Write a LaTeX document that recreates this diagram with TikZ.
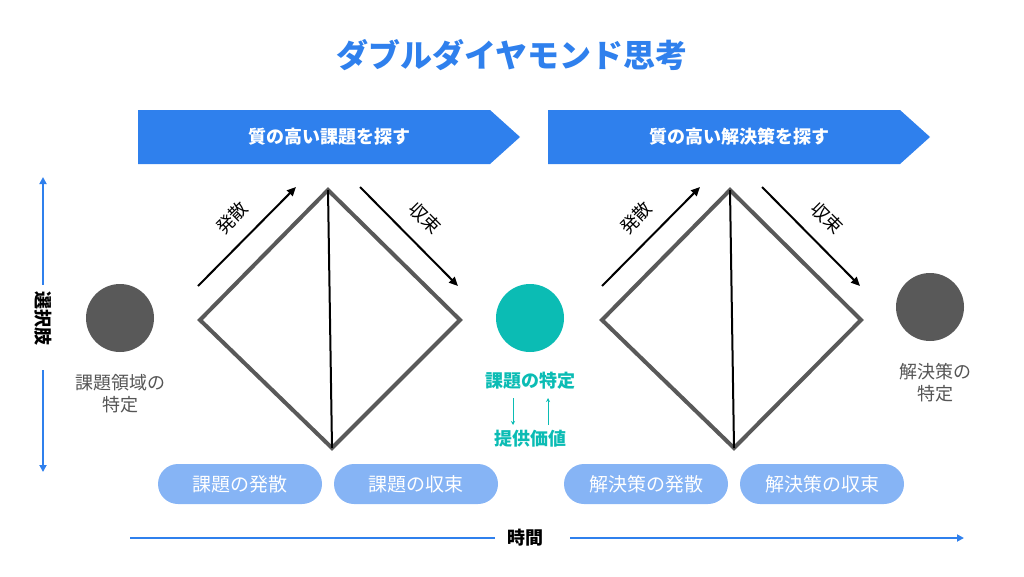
\documentclass[tikz,border=0pt]{standalone}
\usepackage{fontspec}
\setmainfont{Noto Sans CJK JP}
\usetikzlibrary{arrows.meta}
\definecolor{cblue}{HTML}{2F80ED}
\definecolor{cpill}{HTML}{86B4F5}
\definecolor{cteal}{HTML}{0BBCB4}
\definecolor{cdark}{HTML}{595959}
\definecolor{ctext}{HTML}{555555}
\begin{document}
\begin{tikzpicture}[x=1pt,y=-1pt,
  banner/.style={fill=cblue},
  btext/.style={text=white,font=\fontsize{18}{20}\selectfont\bfseries},
  pill/.style={fill=cpill,rounded corners=20pt,minimum width=164pt,minimum height=40pt,text=white,font=\fontsize{19}{21}\selectfont},
  dia/.style={draw=cdark,line width=4pt,line join=miter},
  arr/.style={-{Triangle[length=9pt,width=8pt]},line width=2pt},
  lab/.style={font=\fontsize{18}{20}\selectfont\bfseries,text=black,inner sep=1pt},
  rlab/.style={font=\fontsize{18}{20}\selectfont,text=black,inner sep=0pt},
  dot/.style={circle,minimum size=68pt,inner sep=0pt},
  glab/.style={text=ctext,font=\fontsize{18}{22}\selectfont,align=center}]
\useasboundingbox (0,0) rectangle (1024,576);
\node[text=cblue,font=\fontsize{32}{34}\selectfont\bfseries] (title) at (512,55) {ダブルダイヤモンド思考};
\fill[banner] (138,110) -- (490,110) -- (520,137) -- (490,164) -- (138,164) -- cycle;
\fill[banner] (548,110) -- (900,110) -- (930,137) -- (900,164) -- (548,164) -- cycle;
\node[btext] (b1) at (329,137) {質の高い課題を探す};
\node[btext] (b2) at (739,137) {質の高い解決策を探す};
% diamonds
\draw[dia] (200,320) -- (328,190) -- (460,320) -- (332,448) -- cycle;
\draw[black,line width=2pt] (328,190) -- (332,448);
\draw[dia] (602,320) -- (730,190) -- (861,320) -- (734,448) -- cycle;
\draw[black,line width=2pt] (730,190) -- (734,448);
% arrows
\coordinate (a1s) at (198,286); \coordinate (a1e) at (296,187);
\coordinate (a2s) at (360,187); \coordinate (a2e) at (458,286);
\coordinate (a3s) at (602,286); \coordinate (a3e) at (700,187);
\coordinate (a4s) at (762,187); \coordinate (a4e) at (860,286);
\draw[arr] (a1s) -- (a1e);
\draw[arr] (a2s) -- (a2e);
\draw[arr] (a3s) -- (a3e);
\draw[arr] (a4s) -- (a4e);
\node[rlab,rotate=45] (l1) at (232,218) {発散};
\node[rlab,rotate=-45] (l2) at (425,218) {収束};
\node[rlab,rotate=45] (l3) at (636,218) {発散};
\node[rlab,rotate=-45] (l4) at (827,218) {収束};
% circles
\node[dot,fill=cdark] (c1) at (120,318) {};
\node[dot,fill=cteal] (c2) at (530,318) {};
\node[dot,fill=cdark] (c3) at (930,307) {};
\node[glab] (t1) at (120,394) {課題領域の\\特定};
\node[glab] (t3) at (935,383) {解決策の\\特定};
\node[text=cteal,font=\fontsize{18}{20}\selectfont\bfseries] (t2) at (530,381) {課題の特定};
\node[text=cteal,font=\fontsize{18}{20}\selectfont\bfseries] (t2b) at (530,439) {提供価値};
\draw[cteal,-{Stealth[length=4pt,width=4pt]},line width=0.7pt] (513,398) -- (513,425);
\draw[cteal,-{Stealth[length=4pt,width=4pt]},line width=0.7pt] (548,425) -- (548,398);
% pills
\node[pill] (p1) at (240,484) {課題の発散};
\node[pill] (p2) at (416,484) {課題の収束};
\node[pill] (p3) at (646,484) {解決策の発散};
\node[pill] (p4) at (822,484) {解決策の収束};
% axes
\node[lab,rotate=-90] (sel) at (43,318) {選択肢};
\draw[cblue,line width=2pt,{Triangle[length=7pt,width=7pt]}-] (43,177) -- (43,285);
\draw[cblue,line width=2pt,-{Triangle[length=7pt,width=7pt]}] (43,370) -- (43,472);
\node[lab] (time) at (525,538) {時間};
\draw[cblue,line width=2pt] (130,538) -- (495,538);
\draw[cblue,line width=2pt,-{Triangle[length=7pt,width=7pt]}] (570,538) -- (964,538);
\end{tikzpicture}
\end{document}
